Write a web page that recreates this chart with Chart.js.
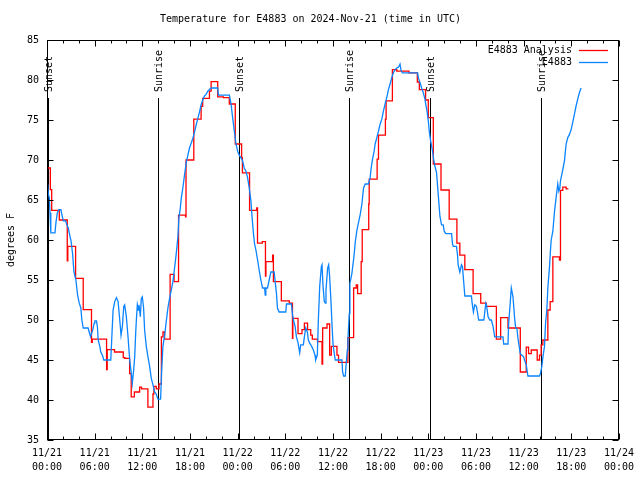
<!DOCTYPE html>
<html>
<head>
<meta charset="utf-8">
<script src="https://cdn.jsdelivr.net/npm/chart.js@4.4.1/dist/chart.umd.min.js"></script>
<style>
html,body{margin:0;padding:0;background:#fff;}
#c{display:block;}
</style>
</head>
<body>
<canvas id="c" width="640" height="480"></canvas>
<script>
const titleText = 'Temperature for E4883 on 2024-Nov-21 (time in UTC)';
const yTitle = 'degrees F';
const seriesNames = ['E4883 Analysis', 'E4883'];
const seriesColors = ['#ff0000', '#0a84ff'];

// hours since 11/21 00:00 UTC
const xDays = ['11/21', '11/21', '11/21', '11/21', '11/22', '11/22', '11/22', '11/22', '11/23', '11/23', '11/23', '11/23', '11/24'];
const xTimes = ['00:00', '06:00', '12:00', '18:00', '00:00', '06:00', '12:00', '18:00', '00:00', '06:00', '12:00', '18:00', '00:00'];

const eventHours = [0.16, 13.96, 24.2, 38.05, 48.2, 62.13];
const eventLabels = ['Sunset', 'Sunrise', 'Sunset', 'Sunrise', 'Sunset', 'Sunrise'];

const redHours = [0.08,0.42,0.59,1.55,2.55,2.62,3.6,4.56,5.6,5.7,7.5,7.58,8.5,9.6,9.8,10.4,10.6,11.0,11.66,11.9,12.7,13.34,13.45,13.75,14.1,14.4,14.6,14.8,15.5,16.0,16.56,17.44,17.5,18.48,19.4,19.6,20.45,20.66,21.49,22.2,22.95,23.7,24.5,24.6,25.5,26.4,26.5,27.1,27.5,27.56,28.4,28.5,29.5,30.5,30.9,30.95,31.6,32.1,32.4,32.8,33.2,33.4,34.05,34.62,34.7,35.25,35.58,35.79,36.5,36.7,37.88,38.6,38.93,39.1,39.55,39.68,40.5,40.56,41.56,41.73,42.6,42.69,43.48,44.03,45.57,46.62,46.87,47.66,48.0,48.63,49.6,50.63,51.6,51.97,52.6,53.64,54.6,55.31,56.57,57.11,58.03,59.58,60.33,60.62,60.96,61.71,62.0,62.21,62.42,63.05,63.34,63.68,64.51,64.64,64.93,65.35,65.64];
const redTemps = [69.0,66.3,63.7,62.5,57.4,59.2,55.2,51.3,47.2,47.6,43.8,46.3,46.0,45.3,45.2,43.3,40.4,41.0,41.6,41.4,39.1,40.75,41.7,41.4,42.0,47.9,48.5,47.6,55.7,54.8,63.1,62.9,70.0,75.1,76.7,77.7,78.6,79.8,77.9,77.8,77.0,72.0,70.3,68.4,63.7,64.0,59.6,59.8,55.5,57.3,58.1,54.8,52.4,52.1,47.7,50.2,48.3,48.8,49.6,48.8,48.1,47.6,47.3,44.5,49.0,49.5,45.6,46.7,45.6,44.7,47.8,54.0,54.4,53.3,57.3,61.3,64.5,67.6,70.1,73.1,75.1,77.4,81.3,81.1,80.9,79.75,78.8,77.5,75.3,69.5,66.25,62.6,59.6,58.1,56.3,53.3,52.1,51.7,47.6,50.3,49.0,43.5,46.6,45.8,46.25,45.0,45.6,46.9,47.5,51.25,52.3,57.9,57.5,66.2,66.6,66.4,66.4];

const blueHours = [0.08,0.17,0.29,0.38,0.46,0.50,1.00,1.13,1.30,1.51,1.76,1.84,1.96,2.05,2.34,2.47,2.68,2.80,2.97,3.01,3.22,3.39,3.64,3.85,4.06,4.26,4.39,4.56,5.18,5.31,5.48,5.77,5.94,6.02,6.23,6.35,6.44,6.65,6.77,6.98,7.15,8.03,8.19,8.32,8.53,8.74,8.95,9.16,9.32,9.49,9.66,9.78,9.99,10.20,10.41,10.62,10.74,10.91,11.04,11.16,11.25,11.37,11.50,11.58,11.75,11.87,12.00,12.16,12.29,12.50,12.71,12.92,13.13,13.34,13.55,13.75,13.96,14.30,14.42,14.59,14.81,15.01,15.22,15.43,15.64,15.85,16.06,16.27,16.48,16.60,16.77,16.90,17.10,17.31,17.52,17.73,17.94,18.15,18.36,18.57,18.78,18.99,19.20,19.40,19.61,19.82,20.03,20.24,20.66,21.49,21.58,22.96,23.17,23.37,23.58,23.79,24.0,24.2,24.4,24.62,24.83,25.04,25.25,25.46,25.67,25.79,25.96,26.13,26.30,26.51,26.71,26.92,27.13,27.40,27.47,27.55,27.76,27.97,28.18,28.60,28.72,28.89,29.01,29.22,30.06,30.14,30.77,30.89,31.02,31.23,31.40,31.61,31.81,31.94,32.27,32.40,32.57,32.78,32.90,33.07,33.32,33.53,33.74,33.82,34.03,34.16,34.33,34.54,34.62,34.75,34.91,35.04,35.12,35.33,35.46,35.58,35.75,35.87,36.0,36.13,36.29,37.13,37.21,37.34,37.55,37.67,37.80,37.88,38.05,38.13,38.22,38.38,38.51,38.64,38.80,39.01,39.22,39.43,39.64,39.85,40.06,40.47,40.68,40.81,40.98,41.18,41.31,41.52,41.73,41.94,42.15,42.35,42.56,42.77,42.98,43.19,43.40,43.61,43.82,44.03,44.24,44.44,44.57,44.74,46.66,46.74,46.95,47.16,47.37,47.58,47.71,47.84,48.0,48.12,48.29,48.42,48.55,48.67,48.83,49.04,49.25,49.46,49.67,49.88,50.0,50.21,50.93,51.05,51.15,51.55,51.68,51.76,51.97,52.18,52.30,52.47,52.60,53.43,53.52,53.68,53.85,54.06,54.18,54.34,54.99,55.11,55.24,55.32,55.53,55.74,55.94,56.15,56.36,57.40,57.49,58.03,58.12,58.28,58.45,58.66,58.87,59.0,59.16,59.29,59.41,59.58,59.79,60.0,60.12,60.33,60.54,62.0,62.12,62.29,62.46,62.63,62.76,62.92,63.05,63.26,63.38,63.47,63.68,63.89,64.09,64.30,64.43,64.56,64.64,64.81,64.97,65.14,65.35,65.56,65.77,65.98,66.18,66.39,66.60,66.81,67.02,67.23];
const blueTemps = [67.0,65.7,65.3,63.4,62.0,60.9,60.9,62.2,63.4,63.8,63.8,63.3,62.8,62.4,62.4,62.0,61.5,60.9,60.1,60.0,58.3,56.0,55.0,53.1,52.1,51.5,50.0,49.0,49.0,48.5,47.9,48.8,49.6,49.9,49.9,49.1,47.5,46.7,46.0,45.6,45.0,45.0,48.5,51.25,52.3,52.8,52.3,50.0,48.1,49.2,51.7,51.9,50.4,47.9,45.0,43.3,42.1,43.75,45.4,48.3,50.0,51.9,51.25,51.9,50.4,52.7,52.9,51.5,48.75,46.7,45.4,44.2,42.7,41.9,41.0,40.75,40.1,40.1,43.3,46.7,48.1,49.8,51.5,52.7,53.7,54.8,56.5,58.3,60.4,62.7,63.9,65.2,66.5,68.1,69.6,70.6,71.5,72.1,72.7,73.5,74.4,75.2,76.0,76.9,77.5,78.0,78.2,78.6,79.0,79.0,78.1,78.1,77.0,75.3,73.6,72.0,71.1,70.6,70.3,69.9,69.0,68.6,67.8,66.5,64.9,63.2,61.1,59.5,58.75,57.5,56.25,55.0,54.0,54.0,53.1,54.0,54.0,55.0,56.0,56.0,54.8,53.3,51.5,51.0,51.0,52.0,52.0,50.8,50.0,49.2,47.9,47.1,45.9,46.9,46.9,47.9,49.0,48.5,47.5,47.1,46.7,46.25,45.6,45.0,45.6,50.0,54.2,56.7,56.9,54.2,52.3,52.1,53.75,56.5,56.9,55.4,52.3,49.6,47.1,46.0,45.0,45.0,43.5,43.0,43.0,44.6,46.25,47.5,50.8,54.6,55.0,55.8,56.9,57.9,59.7,61.2,62.2,63.2,64.5,66.5,67.0,67.0,67.8,69.0,70.1,71.1,72.0,72.8,73.6,74.5,75.1,76.1,77.0,77.8,78.8,79.5,80.3,80.9,81.3,81.5,81.6,82.0,81.2,80.9,80.9,80.3,79.7,79.0,78.4,77.6,76.75,76.1,74.9,73.6,72.4,71.75,71.0,70.1,69.25,68.4,65.7,63.0,61.9,61.9,61.1,60.8,60.8,59.5,59.2,59.2,58.1,56.9,56.0,56.9,56.7,54.6,53.0,53.0,52.1,51.0,51.9,51.7,51.0,50.0,50.0,51.0,52.1,51.9,50.4,50.0,50.0,49.2,47.9,47.9,47.0,47.0,49.6,51.7,54.0,52.9,50.2,49.0,48.9,47.7,46.9,45.8,45.6,45.4,45.0,44.4,43.0,43.0,43.3,44.2,45.6,46.7,49.6,51.25,54.0,56.7,58.75,60.0,61.1,63.6,65.3,67.0,66.1,66.5,67.4,68.2,69.0,69.9,72.0,72.8,73.2,73.8,74.7,75.7,76.75,77.6,78.4,79.0];

const FONT = '"DejaVu Sans Mono", "Liberation Mono", monospace';

const toPoints = (xs, ys) => xs.map((x, i) => ({ x: x, y: ys[i] }));

const gnuplotFrame = {
  id: 'gnuplotFrame',
  beforeDatasetsDraw(chart) {
    const ctx = chart.ctx, a = chart.chartArea, xs = chart.scales.x;
    ctx.save();
    ctx.strokeStyle = '#000';
    ctx.lineWidth = 1;
    ctx.font = '10px ' + FONT;
    ctx.fillStyle = '#000';
    eventHours.forEach((h, i) => {
      const px = Math.round(xs.getPixelForValue(h)) + 0.5;
      ctx.beginPath();
      ctx.moveTo(px, a.bottom);
      ctx.lineTo(px, a.top + 58);
      ctx.stroke();
      ctx.save();
      ctx.translate(px + 1, a.top + 52);
      ctx.rotate(-Math.PI / 2);
      ctx.textAlign = 'left';
      ctx.textBaseline = 'middle';
      ctx.fillText(eventLabels[i], 0, 0);
      ctx.restore();
    });
    ctx.restore();
  },
  afterDraw(chart) {
    const ctx = chart.ctx, a = chart.chartArea, xs = chart.scales.x, ys = chart.scales.y;
    ctx.save();
    ctx.strokeStyle = '#000';
    ctx.lineWidth = 1;
    const L = Math.round(a.left) + 0.5, R = Math.round(a.right) - 0.5;
    const T = Math.round(a.top) + 0.5, B = Math.round(a.bottom) - 0.5;
    ctx.strokeRect(L, T, R - L, B - T);
    ctx.beginPath();
    ys.ticks.forEach(t => {
      const py = Math.round(ys.getPixelForValue(t.value)) + 0.5;
      ctx.moveTo(L, py); ctx.lineTo(L + 6, py);
      ctx.moveTo(R, py); ctx.lineTo(R - 6, py);
    });
    xs.ticks.forEach(t => {
      const px = Math.round(xs.getPixelForValue(t.value)) + 0.5;
      const len = (t.value % 6 === 0) ? 6 : 3;
      ctx.moveTo(px, B); ctx.lineTo(px, B - len);
      ctx.moveTo(px, T); ctx.lineTo(px, T + len);
    });
    ctx.stroke();
    // legend (gnuplot style: text then sample line)
    ctx.font = '10px ' + FONT;
    ctx.fillStyle = '#000';
    ctx.textAlign = 'right';
    ctx.textBaseline = 'middle';
    chart.data.datasets.forEach((ds, i) => {
      const y = a.top + 10 + i * 12;
      ctx.fillText(ds.label, a.right - 47, y);
      ctx.strokeStyle = ds.borderColor;
      ctx.lineWidth = 1.3;
      ctx.beginPath();
      ctx.moveTo(a.right - 40, Math.round(y) + 0.5);
      ctx.lineTo(a.right - 11, Math.round(y) + 0.5);
      ctx.stroke();
    });
    ctx.restore();
  }
};

new Chart(document.getElementById('c'), {
  type: 'line',
  data: {
    datasets: [
      { label: seriesNames[0], data: toPoints(redHours, redTemps), borderColor: seriesColors[0], borderWidth: 1.3, pointRadius: 0, stepped: true, fill: false, order: 2 },
      { label: seriesNames[1], data: toPoints(blueHours, blueTemps), borderColor: seriesColors[1], borderWidth: 1.3, pointRadius: 0, tension: 0, fill: false, order: 1 }
    ]
  },
  options: {
    responsive: false,
    animation: false,
    devicePixelRatio: 1,
    layout: { padding: { left: 0, right: 19, top: 0, bottom: 0 } },
    plugins: {
      legend: { display: false },
      tooltip: { enabled: false },
      title: {
        display: true,
        text: titleText,
        color: '#000',
        font: { family: FONT, size: 10, weight: 'normal', lineHeight: 1.2 },
        padding: { top: 13, bottom: 15 }
      }
    },
    scales: {
      x: {
        type: 'linear',
        min: 0, max: 72,
        grid: { display: false, drawTicks: false },
        border: { display: false },
        afterFit: s => { s.height = 40; },
        afterBuildTicks: s => { s.ticks = []; for (let v = 0; v <= 72; v += 2) s.ticks.push({ value: v }); },
        ticks: {
          autoSkip: false, maxRotation: 0, minRotation: 0, padding: 6,
          color: '#000',
          font: { family: FONT, size: 10, lineHeight: 1.4 },
          callback: v => (v % 6 === 0) ? [xDays[v / 6], xTimes[v / 6]] : ''
        }
      },
      y: {
        min: 35, max: 85,
        grid: { display: false, drawTicks: false },
        border: { display: false },
        afterFit: s => { s.width = 47; },
        ticks: { stepSize: 5, padding: 8, color: '#000', font: { family: FONT, size: 10 } },
        title: {
          display: true, text: yTitle, color: '#000',
          font: { family: FONT, size: 10, lineHeight: 1.2 },
          padding: { top: 5, bottom: 0 }
        }
      }
    }
  },
  plugins: [gnuplotFrame]
});
</script>
</body>
</html>
